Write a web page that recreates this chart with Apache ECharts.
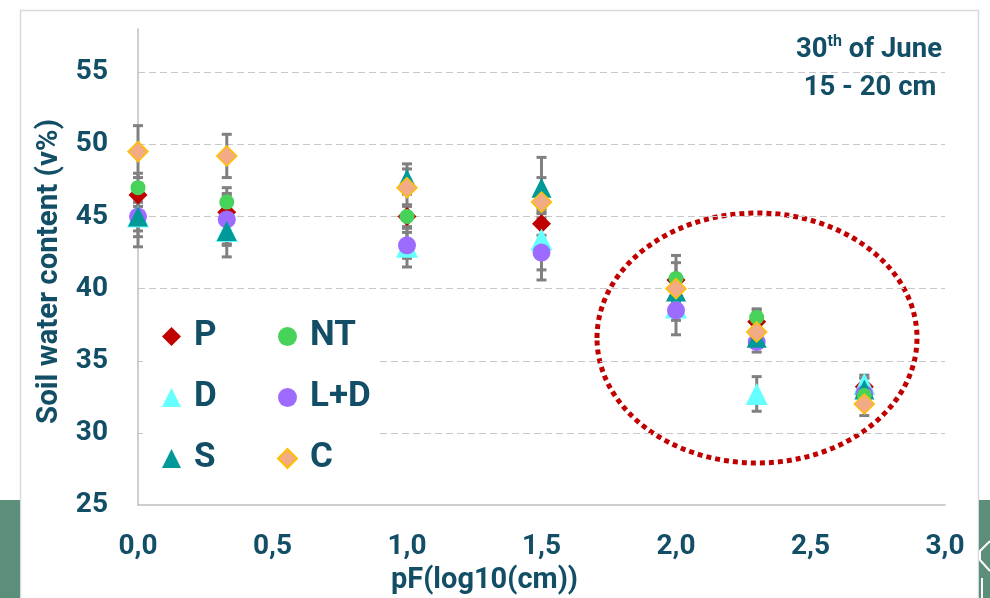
<!DOCTYPE html>
<html>
<head>
<meta charset="utf-8">
<script src="https://cdn.jsdelivr.net/npm/echarts@6/dist/echarts.min.js"></script>
<style>html,body{margin:0;padding:0;background:#fff}#c{width:990px;height:598px}</style>
</head>
<body>
<div id="c"></div>
<script>
// ---- data ----
const pF = [0, 0.33, 1.0, 1.5, 2.0, 2.3, 2.7];
const seriesNames = ['P', 'D', 'L+D', 'S', 'NT', 'C'];
const P   = [46.5, 45.3, 45.0, 44.5, 40.6, 37.7, 33.2];
const D   = [45.0, 44.0, 42.9, 43.4, 38.7, 32.7, 33.4];
const LD  = [45.0, 44.8, 43.0, 42.5, 38.5, 36.3, 32.7];
const S   = [45.0, 44.0, 47.6, 47.0, 39.8, 36.6, 33.0];
const NT  = [47.0, 46.0, 45.0, 46.0, 40.7, 38.0, 32.6];
const C   = [49.5, 49.2, 47.0, 46.0, 40.0, 37.0, 32.0];
const P_err  = [0.8, 1.3, 0.8, 0.8, 1.2, 0.8, 0.6];
const D_err  = [2.1, 1.0, 1.4, 2.1, 0.9, 1.2, 0.6];
const LD_err = [1.0, 1.7, 0.9, 1.9, 1.7, 0.7, 0.6];
const S_err  = [1.4, 1.8, 1.05, 2.1, 1.0, 0.6, 0.8];
const NT_err = [1.0, 1.0, 0.8, 0.8, 1.6, 0.6, 0.6];
const C_err  = [1.8, 1.5, 1.3, 1.7, 1.0, 0.8, 0.8];
const yTicks = [25, 30, 35, 40, 45, 50, 55];
const xTicks = [0, 0.5, 1, 1.5, 2, 2.5, 3];
const titleLine1 = ['30', 'th', ' of June'];
const titleLine2 = '15 - 20 cm';
const xName = 'pF(log10(cm))';
const yName = 'Soil water content (v%)';

// ---- styling ----
const TXT = '#124E66';
const FONT = "Roboto, 'Liberation Sans', sans-serif";
const styles = {
  'P':   {symbol: 'diamond', size: 19, color: '#C00000'},
  'D':   {symbol: 'triangle', size: 22, color: '#66FFFF'},
  'L+D': {symbol: 'circle', size: 18, color: '#9D6BFF'},
  'S':   {symbol: 'triangle', size: 20, color: '#00999A'},
  'NT':  {symbol: 'circle', size: 15, color: '#47D35A'},
  'C':   {symbol: 'diamond', size: 20, color: '#F2AB85', border: '#FFC000'}
};
const values = {'P': P, 'D': D, 'L+D': LD, 'S': S, 'NT': NT, 'C': C};
const errs = {'P': P_err, 'D': D_err, 'L+D': LD_err, 'S': S_err, 'NT': NT_err, 'C': C_err};

const errData = [];
seriesNames.forEach(n => values[n].forEach((v, i) => errData.push([pF[i], v, errs[n][i]])));

const scatterSeries = seriesNames.map(n => ({
  name: n,
  type: 'scatter',
  z: 3,
  symbol: styles[n].symbol,
  symbolSize: styles[n].size,
  itemStyle: {color: styles[n].color, opacity: 1, borderColor: styles[n].border || styles[n].color, borderWidth: styles[n].border ? 1.5 : 0},
  emphasis: {disabled: true},
  data: values[n].map((v, i) => [pF[i], v])
}));

const errSeries = {
  type: 'custom',
  z: 2,
  silent: true,
  encode: {x: 0, y: 1},
  data: errData,
  renderItem: function (params, api) {
    const x = api.value(0), y = api.value(1), e = api.value(2);
    const hi = api.coord([x, y + e]);
    const lo = api.coord([x, y - e]);
    const w = 5;
    const st = {stroke: '#808080', lineWidth: 3};
    return {
      type: 'group',
      children: [
        {type: 'line', shape: {x1: hi[0], y1: hi[1], x2: lo[0], y2: lo[1]}, style: st},
        {type: 'line', shape: {x1: hi[0] - w, y1: hi[1], x2: hi[0] + w, y2: hi[1]}, style: st},
        {type: 'line', shape: {x1: lo[0] - w, y1: lo[1], x2: lo[0] + w, y2: lo[1]}, style: st}
      ]
    };
  }
};

const legendText = {color: TXT, fontSize: 35, fontWeight: 'bold', fontFamily: FONT, lineHeight: 30, padding: [0, 0, 0, 8]};

const option = {
  backgroundColor: '#ffffff',
  animation: false,
  grid: {left: 138, right: 45, top: 29, bottom: 93, outerBoundsMode: 'none', containLabel: false},
  xAxis: {
    type: 'value', min: 0, max: 3, interval: 0.5,
    name: xName, nameLocation: 'middle', nameGap: 61,
    nameTextStyle: {color: TXT, fontSize: 29, fontWeight: 'bold', fontFamily: FONT, padding: [0, 114, 0, 0]},
    axisLine: {show: true, onZero: false, lineStyle: {color: '#BFBFBF', width: 1.5}},
    axisTick: {show: false},
    splitLine: {show: false},
    axisLabel: {color: TXT, fontSize: 28, fontWeight: 'bold', fontFamily: FONT, margin: 28,
      formatter: v => xTicks.indexOf(v) >= 0 ? v.toFixed(1).replace('.', ',') : ''}
  },
  yAxis: {
    type: 'value', min: 25, max: 58, interval: 5,
    name: yName, nameLocation: 'middle', nameGap: 63, nameRotate: 90,
    nameTextStyle: {color: TXT, fontSize: 29.5, fontWeight: 'bold', fontFamily: FONT, padding: [0, 9, 0, 0]},
    axisLine: {show: true, lineStyle: {color: '#BFBFBF', width: 1.5}},
    axisTick: {show: false},
    splitLine: {show: true, showMinLine: false, showMaxLine: false, lineStyle: {color: '#C8C8C8', type: [7, 4], width: 1.2}},
    axisLabel: {color: TXT, fontSize: 28, fontWeight: 'bold', fontFamily: FONT, margin: 30, showMaxLabel: false,
      formatter: v => yTicks.indexOf(v) >= 0 ? String(v) : ''}
  },
  legend: [
    {data: ['P', 'D', 'S'], orient: 'vertical', left: 143, top: 309, itemWidth: 19, itemHeight: 19, itemGap: 26,
     padding: [10, 18, 10, 19], backgroundColor: '#ffffff', textStyle: legendText, selectedMode: false, z: 10},
    {data: ['NT', 'L+D', 'C'], orient: 'vertical', left: 229, top: 309, itemWidth: 19, itemHeight: 19, itemGap: 26,
     padding: [10, 8, 10, 48], backgroundColor: '#ffffff', textStyle: legendText, selectedMode: false, z: 10}
  ],
  graphic: [
    {type: 'rect', shape: {x: 20.5, y: 10.5, width: 958, height: 620}, style: {fill: 'none', stroke: '#D9D9D9', lineWidth: 1.5}, silent: true},
    {type: 'rect', shape: {x: 0, y: 500, width: 20, height: 98}, style: {fill: '#5B8F79'}, silent: true},
    {type: 'rect', shape: {x: 979, y: 500, width: 11, height: 98}, style: {fill: '#5B8F79'}, silent: true},
    {type: 'polyline', shape: {points: [[990, 541], [980, 551], [980, 560], [990, 571]]}, style: {stroke: '#ffffff', lineWidth: 2, fill: 'none'}, silent: true},
    {type: 'line', shape: {x1: 982, y1: 578, x2: 982, y2: 598}, style: {stroke: '#ffffff', lineWidth: 2}, silent: true},
    {type: 'ellipse', shape: {cx: 757, cy: 338, rx: 160, ry: 125}, style: {fill: 'none', stroke: '#C00000', lineWidth: 5, lineDash: [5, 4]}, silent: true},
    {type: 'text', x: 869, y: 50, style: {
      text: '{a|' + titleLine1[0] + '}{s|' + titleLine1[1] + '}{a|' + titleLine1[2] + '}',
      align: 'center', verticalAlign: 'middle',
      rich: {a: {fontSize: 27.5, fontWeight: 'bold', fontFamily: FONT, fill: TXT, lineHeight: 32},
             s: {fontSize: 16, fontWeight: 'bold', fontFamily: FONT, fill: TXT, lineHeight: 32, verticalAlign: 'top', padding: [0, 0, 13, 0]}}
    }, silent: true},
    {type: 'text', x: 870, y: 88, style: {text: titleLine2, align: 'center', verticalAlign: 'middle',
      fontSize: 27.5, fontWeight: 'bold', fontFamily: FONT, fill: TXT}, silent: true}
  ],
  series: [errSeries].concat(scatterSeries)
};

const chart = echarts.init(document.getElementById('c'), null, {renderer: 'canvas'});
chart.setOption(option);
</script>
</body>
</html>
